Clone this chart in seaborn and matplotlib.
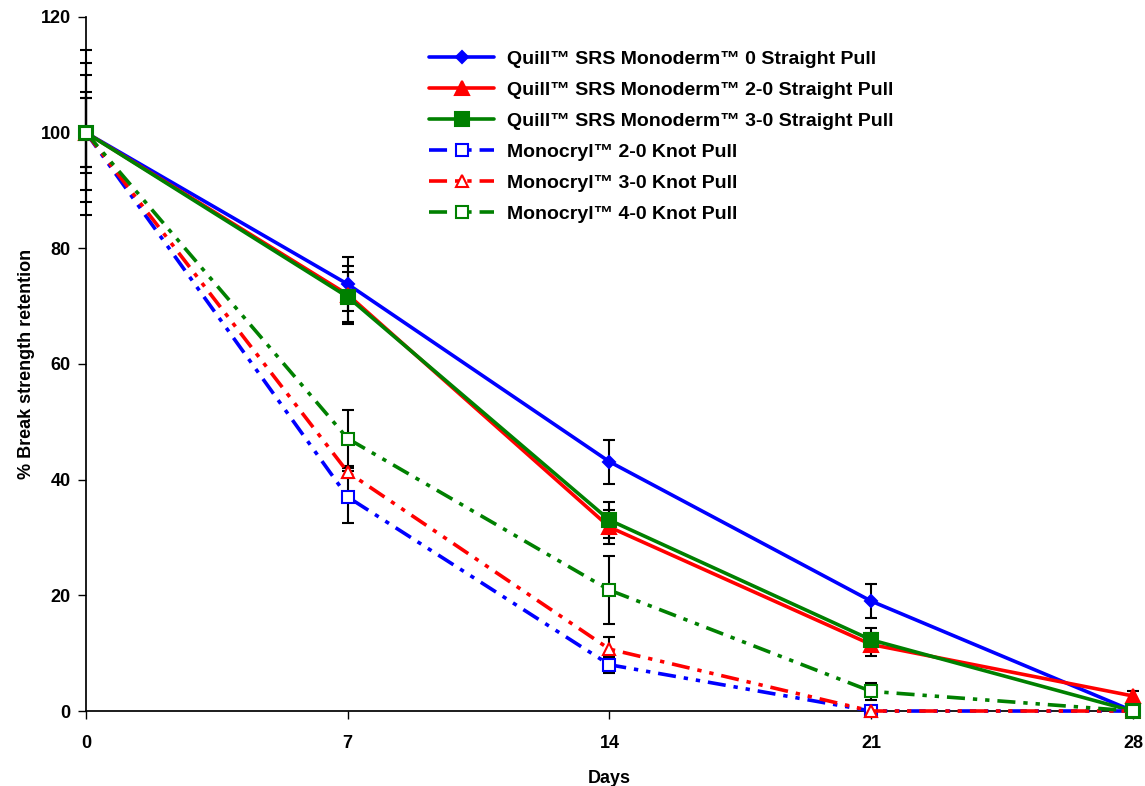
import numpy as np
import pandas as pd
import seaborn as sns
import matplotlib.pyplot as plt

days = [0, 7, 14, 21, 28]

quill_0 = [100, 73.8, 43.1, 19.0, 0]
quill_20 = [100, 72.0, 31.8, 11.5, 2.6]
quill_30 = [100, 71.6, 33.0, 12.3, 0]
mono_20 = [100, 37.0, 8.0, 0, 0]
mono_30 = [100, 41.3, 10.7, 0, 0]
mono_40 = [100, 47.1, 20.9, 3.4, 0]

quill_0_sd = [6, 4.7, 3.8, 3.0, 0]
quill_20_sd = [7, 5.0, 3.0, 2.0, 0.8]
quill_30_sd = [12, 4.3, 3.1, 2.0, 0]
mono_20_sd = [14.3, 4.5, 1.4, 0, 0]
mono_30_sd = [10, 1.0, 2.1, 0, 0]
mono_40_sd = [6, 5.0, 5.9, 1.5, 0]

labels = [
    "Quill™ SRS Monoderm™ 0 Straight Pull",
    "Quill™ SRS Monoderm™ 2-0 Straight Pull",
    "Quill™ SRS Monoderm™ 3-0 Straight Pull",
    "Monocryl™ 2-0 Knot Pull",
    "Monocryl™ 3-0 Knot Pull",
    "Monocryl™ 4-0 Knot Pull",
]
values = [quill_0, quill_20, quill_30, mono_20, mono_30, mono_40]
errors = [quill_0_sd, quill_20_sd, quill_30_sd, mono_20_sd, mono_30_sd, mono_40_sd]

colors = ["#0000ff", "#ff0000", "#008000", "#0000ff", "#ff0000", "#008000"]
markers = ["D", "^", "s", "s", "^", "s"]
msizes = [6, 10, 10, 9, 9, 9]
dashdotdot = (0, (5, 2.2, 1.2, 2.2, 1.2, 2.2))
styles = ["-", "-", "-", dashdotdot, dashdotdot, dashdotdot]
filled = [True, True, True, False, False, False]

sns.set_theme(style="white")
plt.rcParams["font.family"] = ["Liberation Sans", "DejaVu Sans"]
plt.rcParams["font.weight"] = "bold"
plt.rcParams["text.color"] = "black"
plt.rcParams["axes.labelcolor"] = "black"

fig = plt.figure(figsize=(11.45, 7.86), dpi=100)
ax = fig.add_axes([0.0751, 0.0954, 0.9144, 0.883])

for i in range(6):
    df = pd.DataFrame({"day": days, "val": values[i]})
    sns.lineplot(data=df, x="day", y="val", ax=ax, color=colors[i],
                 linestyle=styles[i], linewidth=2.6, marker=markers[i],
                 markersize=msizes[i],
                 markerfacecolor=colors[i] if filled[i] else "white",
                 markeredgecolor=colors[i], markeredgewidth=1.5,
                 label=labels[i], zorder=3 + i, clip_on=False)
    sd = np.array(errors[i], dtype=float)
    m = sd > 0
    eb = ax.errorbar(np.array(days)[m], np.array(values[i])[m], yerr=sd[m],
                     fmt="none", ecolor="black", elinewidth=1.5, capsize=4.5,
                     capthick=1.5, zorder=2)
    for art in eb.lines[1] + eb.lines[2]:
        art.set_clip_on(False)

ax.set_xlim(0, 28)
ax.set_ylim(0, 120)
ax.set_xticks(days)
ax.set_yticks(range(0, 121, 20))
ax.tick_params(axis="both", labelsize=13, direction="out", length=6,
               width=1, colors="black", left=True, bottom=True, pad=5)
ax.tick_params(axis="x", pad=11)
for lab in ax.get_xticklabels() + ax.get_yticklabels():
    lab.set_fontweight("bold")
ax.set_xlabel("Days", fontsize=13, fontweight="bold", labelpad=13)
ax.set_ylabel("% Break strength retention", fontsize=13, fontweight="bold", labelpad=4)
sns.despine(ax=ax)
ax.spines["left"].set_color("black")
ax.spines["bottom"].set_color("black")

leg = ax.legend(loc="upper left", bbox_to_anchor=(0.311, 0.977), frameon=False,
                handlelength=3.35, labelspacing=0.69, handletextpad=0.65,
                prop={"weight": "bold", "size": 14})

fig.savefig("out.png", dpi=100)
